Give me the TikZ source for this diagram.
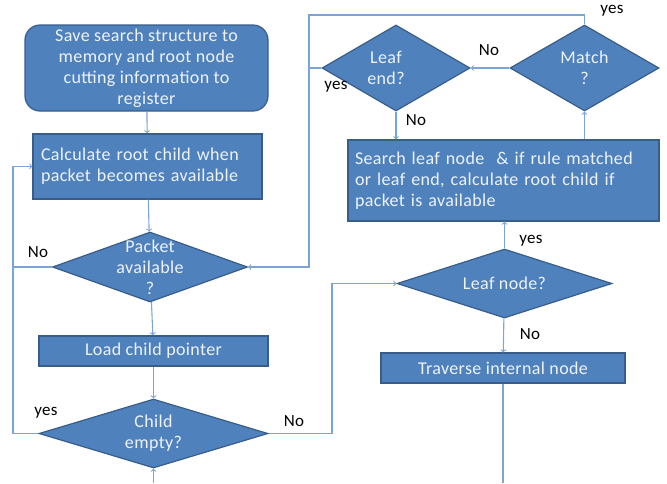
\documentclass[tikz,border=0pt]{standalone}
\usepackage{fontspec}
\setmainfont{Carlito}[LetterSpace=2]
\usetikzlibrary{shapes.geometric}

\definecolor{boxblue}{HTML}{4F81BD}
\definecolor{boxedge}{HTML}{385D8A}
\definecolor{flowline}{HTML}{7DA4D6}
\definecolor{boxtext}{HTML}{EEF3FA}

\tikzset{
    box/.style = {draw=boxedge, fill=boxblue, line width=1.2pt, text=boxtext, inner sep=0pt,
                  font=\fontsize{18}{21}\selectfont},
    decision/.style = {diamond, draw=boxedge, fill=boxblue, line width=1.2pt, inner sep=0pt},
    dectext/.style = {text=boxtext, align=center, font=\fontsize{18}{21}\selectfont},
    flow/.style = {draw=flowline, line width=1.1pt},
    answer/.style = {font=\fontsize{17}{20}\selectfont, text=black, inner sep=0pt}
}

\begin{document}
\begin{tikzpicture}[x=1pt, y=-1pt, >=to]
    \useasboundingbox (0,0) rectangle (667,483);

    % Left column
    \node[box, rounded corners=15pt, minimum width=243pt, minimum height=86pt, align=center] (start) at (146.5,68)
        {Save search structure to\\memory and root node\\cutting information to\\register};
    \node[box, inner xsep=8pt, text width=213pt, minimum height=65pt, align=left] (calc) at (147.5,166.5)
        {Calculate root child when\\packet becomes available};
    \node[decision, minimum width=195pt, minimum height=70pt,
          label={[dectext]center:{Packet\\available\\?}}] (pa) at (150,267) {};
    \node[box, minimum width=229pt, minimum height=30pt] (load) at (153.5,351) {Load child pointer};
    \node[decision, minimum width=229pt, minimum height=69pt,
          label={[dectext]center:{Child\\empty?}}] (child) at (153.5,433.5) {};

    % Right column
    \node[decision, minimum width=148pt, minimum height=86pt,
          label={[dectext, xshift=-10pt]center:{Leaf\\end?}}] (leafend) at (396,68) {};
    \node[decision, minimum width=149pt, minimum height=86pt,
          label={[dectext]center:{Match\\?}}] (match) at (584.5,68) {};
    \node[box, inner xsep=7pt, text width=297pt, minimum height=81pt, align=left] (search) at (503.5,180.5)
        {Search leaf node~ \& if rule matched\\or leaf end, calculate root child if\\packet is available};
    \node[decision, minimum width=215pt, minimum height=69pt,
          label={[dectext]center:{Leaf node?}}] (leafnode) at (504.5,283.5) {};
    \node[box, minimum width=244pt, minimum height=30pt] (trav) at (503,368) {Traverse internal node};

    % Helper points
    \coordinate (loopl) at (13,0);
    \coordinate (loopr) at (332,0);
    \coordinate (looptop) at (309,15);
    \coordinate (inbot) at (153.5,483);
    \coordinate (outbot) at (503,483);

    % Connectors
    \draw[flow,->] (start) -- (calc);
    \draw[flow,->] (calc) -- (pa);
    \draw[flow,->] (pa) -- (load);
    \draw[flow,->] (load) -- (child);
    \draw[flow,->] (inbot) -- (child);
    \draw[flow,->] (child.west) -- (child.west -| loopl) |- (calc.west);
    \draw[flow] (pa.west) -- (pa.west -| loopl);
    \draw[flow,->] (child.east) -- (child.east -| loopr) |- (leafnode.west);
    \draw[flow,->] (leafnode.north) -- (leafnode.north |- search.south);
    \draw[flow,->] (leafnode) -- (trav);
    \draw[flow] (trav) -- (outbot);
    \draw[flow,->] (match.south |- search.north) -- (match.south);
    \draw[flow,->] (match) -- (leafend);
    \draw[flow,->] (match.north) |- (looptop) |- (pa.east);
    \draw[flow] (leafend.west) -- (leafend.west -| looptop);
    \draw[flow,->] (leafend.south) -- (leafend.south |- search.north);

    % Answers
    \node[answer] (panol) at (38,252) {No};
    \node[answer] (childyes) at (46,413) {yes};
    \node[answer] (childno) at (294,421) {No};
    \node[answer] (matchyes) at (612,11) {yes};
    \node[answer] (matchno) at (489,50) {No};
    \node[answer] (leafendyes) at (336,87) {yes};
    \node[answer] (leafendno) at (416,120) {No};
    \node[answer] (leafnodeyes) at (531,241) {yes};
    \node[answer] (leafnodeno) at (530,334) {No};

\end{tikzpicture}
\end{document}
